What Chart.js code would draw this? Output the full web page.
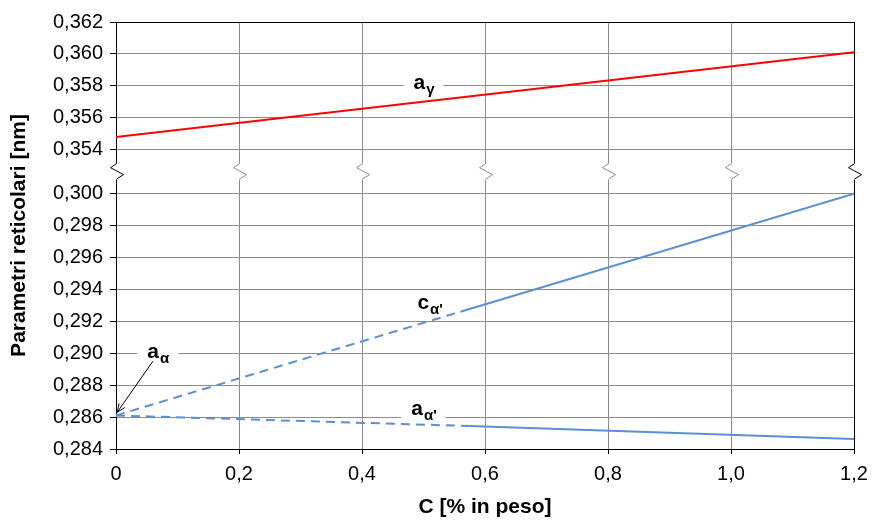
<!DOCTYPE html>
<html><head><meta charset="utf-8">
<script src="https://cdn.jsdelivr.net/npm/chart.js@4/dist/chart.umd.min.js"></script>
<style>html,body{margin:0;padding:0;background:#fff}#wrap{width:873px;height:520px;position:relative}</style>
</head><body><div id="wrap"><canvas id="c"></canvas></div>
<script>
// ---- data ----
const gammaX = [0, 1.2];
const aGamma = [0.3548, 0.3601];
const cAlphaX = [0, 0.56, 1.2];
const cAlpha = [0.2861, 0.2926, 0.3000];
const aAlphaX = [0, 0.575, 1.2];
const aAlphaP = [0.2861, 0.28544, 0.28462];
const lowerTicks = [0.284, 0.286, 0.288, 0.290, 0.292, 0.294, 0.296, 0.298, 0.300];
const upperTicks = [0.354, 0.356, 0.358, 0.360, 0.362];
const xTicks = [0, 0.2, 0.4, 0.6, 0.8, 1.0, 1.2];

// ---- broken axis mapping ----
const BREAK_LOW = 0.300, BREAK_HIGH = 0.354, GAP = 0.00275;
const toAxis = v => v > 0.33 ? v - BREAK_HIGH + BREAK_LOW + GAP : v;
const fromAxis = a => a > BREAK_LOW + GAP / 2 ? a - BREAK_LOW - GAP + BREAK_HIGH : a;
const pts = (xs, ys) => xs.map((x, i) => ({x: x, y: toAxis(ys[i])}));

const FONT = "'Liberation Sans', Arial, sans-serif";
const GRID = '#8c8c8c';
const BLUE = '#5b8fd5';
const dash = [9, 6];

const labels = [
  {main: 'a', sub: '\u03b3', x: 0.5, y: 0.358, dy: 3, box: true},
  {main: 'c', sub: "\u03b1'", x: 0.51, y: 0.2928, dy: 0, box: false},
  {main: 'a', sub: "\u03b1'", x: 0.5, y: 0.286, dy: -2, box: true},
  {main: 'a', sub: '\u03b1', x: 0.068, y: 0.290, dy: 5, box: true}
];
const arrow = {from: [0.06, 0.2895], to: [0.002, 0.2863]};

const decor = {
  id: 'decor',
  beforeDatasetsDraw(chart) {
    const {ctx, scales: {x, y}} = chart;
    ctx.save();
    // zigzag breaks
    const mid = (y.getPixelForValue(toAxis(BREAK_HIGH)) + y.getPixelForValue(BREAK_LOW)) / 2;
    xTicks.forEach((t, i) => {
      const X = Math.round(x.getPixelForValue(t)) + 0.5;
      ctx.fillStyle = '#fff';
      ctx.fillRect(X - 3, mid - 8, 6, 16);
      ctx.strokeStyle = (i === 0 || i === xTicks.length - 1) ? '#000' : GRID;
      ctx.lineWidth = 1;
      ctx.beginPath();
      ctx.moveTo(X, mid - 8);
      ctx.lineTo(X - 6, mid - 4);
      ctx.lineTo(X + 7, mid + 3);
      ctx.lineTo(X, mid + 7.5);
      ctx.stroke();
    });
    // white boxes behind labels
    labels.forEach(l => {
      if (!l.box) return;
      ctx.font = 'bold 21px ' + FONT;
      const w1 = ctx.measureText(l.main).width;
      ctx.font = 'bold 15px ' + FONT;
      const w2 = ctx.measureText(l.sub).width;
      const w = w1 + w2;
      const cx = x.getPixelForValue(l.x);
      const gy = y.getPixelForValue(toAxis(l.y));
      ctx.fillStyle = '#fff';
      ctx.fillRect(cx - w / 2 - 10, gy - 3, w + 20, 6);
    });
    ctx.restore();
  },
  afterDatasetsDraw(chart) {
    const {ctx, scales: {x, y}} = chart;
    ctx.save();
    ctx.fillStyle = '#000';
    ctx.textBaseline = 'alphabetic';
    labels.forEach(l => {
      ctx.font = 'bold 21px ' + FONT;
      const w1 = ctx.measureText(l.main).width;
      ctx.font = 'bold 15px ' + FONT;
      const w2 = ctx.measureText(l.sub).width;
      const cx = x.getPixelForValue(l.x);
      const base = y.getPixelForValue(toAxis(l.y)) + l.dy;
      const sx = cx - (w1 + w2) / 2;
      ctx.font = 'bold 21px ' + FONT;
      ctx.fillText(l.main, sx, base);
      ctx.font = 'bold 15px ' + FONT;
      ctx.fillText(l.sub, sx + w1 + 1, base + 5);
    });
    // arrow
    const x1 = x.getPixelForValue(arrow.from[0]), y1 = y.getPixelForValue(toAxis(arrow.from[1]));
    const x2 = x.getPixelForValue(arrow.to[0]), y2 = y.getPixelForValue(toAxis(arrow.to[1]));
    ctx.strokeStyle = '#000';
    ctx.lineWidth = 1;
    ctx.beginPath();
    ctx.moveTo(x1, y1); ctx.lineTo(x2, y2);
    const ang = Math.atan2(y2 - y1, x2 - x1);
    const L = 9;
    ctx.moveTo(x2 - L * Math.cos(ang - 0.4), y2 - L * Math.sin(ang - 0.4));
    ctx.lineTo(x2, y2);
    ctx.lineTo(x2 - L * Math.cos(ang + 0.4), y2 - L * Math.sin(ang + 0.4));
    ctx.stroke();
    ctx.restore();
  }
};

const tickFont = {family: FONT, size: 20};
const titleFont = {family: FONT, size: 21, weight: 'bold', lineHeight: 1.2};

new Chart(document.getElementById('c'), {
  type: 'line',
  data: {
    datasets: [
      {label: 'a_gamma', data: pts(gammaX, aGamma), borderColor: '#ff0000', borderWidth: 2, pointRadius: 0},
      {label: "c_alpha'", data: pts(cAlphaX, cAlpha), borderColor: BLUE, borderWidth: 2, pointRadius: 0,
        segment: {borderDash: c => c.p0DataIndex === 0 ? dash : undefined}},
      {label: "a_alpha'", data: pts(aAlphaX, aAlphaP), borderColor: BLUE, borderWidth: 2, pointRadius: 0,
        segment: {borderDash: c => c.p0DataIndex === 0 ? dash : undefined}}
    ]
  },
  options: {
    responsive: true,
    maintainAspectRatio: false,
    animation: false,
    layout: {padding: {top: 22, right: 19, left: 0, bottom: 0}},
    plugins: {legend: {display: false}, tooltip: {enabled: false}},
    scales: {
      x: {
        type: 'linear', min: 0, max: 1.2,
        afterBuildTicks: s => { s.ticks = xTicks.map(v => ({value: v})); },
        afterFit: s => { s.height = 71; s.paddingLeft = 0; s.paddingRight = 0; },
        ticks: {font: tickFont, color: '#000', padding: 8, maxRotation: 0, autoSkip: false,
          callback: v => v === 0 ? '0' : v.toFixed(1).replace('.', ',')},
        grid: {color: c => (c.tick && Math.abs(c.tick.value - 1.2) < 1e-6) ? '#000' : GRID, tickColor: '#000', tickLength: 5, lineWidth: 1},
        border: {color: '#000', width: 1},
        title: {display: true, text: 'C [% in peso]', font: titleFont, color: '#000', padding: {top: 0, bottom: 0}}
      },
      y: {
        type: 'linear', min: 0.284, max: toAxis(0.362),
        afterBuildTicks: s => { s.ticks = lowerTicks.concat(upperTicks).map(v => ({value: toAxis(v)})); },
        afterFit: s => { s.width = 116; s.paddingTop = 0; s.paddingBottom = 0; },
        ticks: {font: tickFont, color: '#000', padding: 7, autoSkip: false,
          callback: v => fromAxis(v).toFixed(3).replace('.', ',')},
        grid: {color: c => (c.tick && Math.abs(c.tick.value - toAxis(0.362)) < 1e-6) ? '#000' : GRID, tickColor: '#000', tickLength: 6, lineWidth: 1},
        border: {color: '#000', width: 1},
        title: {display: true, text: 'Parametri reticolari [nm]', font: titleFont, color: '#000', padding: {top: 7, bottom: 0}}
      }
    }
  },
  plugins: [decor]
});
</script>
</body></html>
